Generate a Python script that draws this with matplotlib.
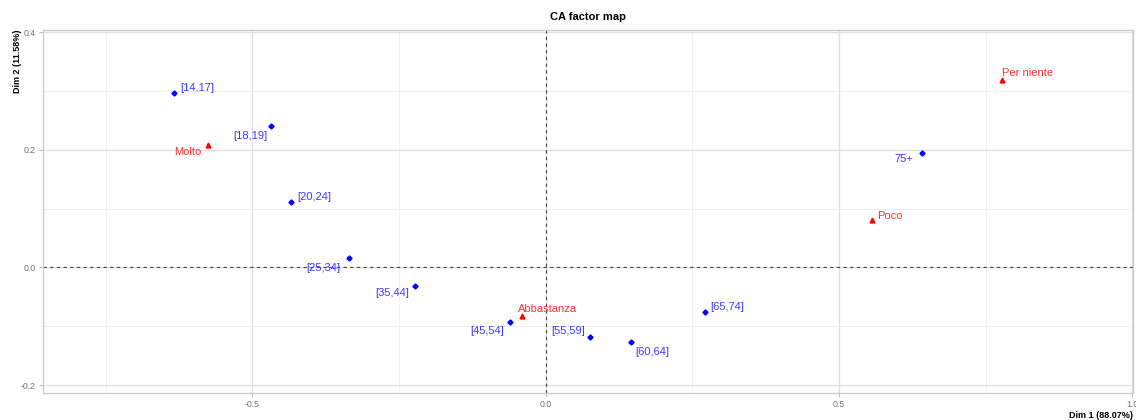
import numpy as np
import matplotlib
matplotlib.use('Agg')
import matplotlib.pyplot as plt
from matplotlib.ticker import MultipleLocator

plt.rcParams['font.family'] = ['Liberation Sans', 'DejaVu Sans']

# rows (age groups)
row_names = ['[14,17]', '[18,19]', '[20,24]', '[25,34]', '[35,44]', '[45,54]',
             '[55,59]', '[60,64]', '[65,74]', '75+']
row_x = [-0.633, -0.468, -0.434, -0.335, -0.222, -0.060, 0.076, 0.145, 0.272, 0.641]
row_y = [0.296, 0.241, 0.112, 0.016, -0.032, -0.093, -0.119, -0.127, -0.076, 0.195]

# columns (answers)
col_names = ['Molto', 'Abbastanza', 'Poco', 'Per niente']
col_x = [-0.576, -0.040, 0.557, 0.778]
col_y = [0.208, -0.083, 0.080, 0.319]

# label offsets in pixels (dx, dy, ha)
row_off = [(6, 5, 'left'), (-4, -10, 'right'), (6, 5, 'left'), (-9, -10, 'right'),
           (-6, -7, 'right'), (-6, -9, 'right'), (-5, 6, 'right'), (5, -10, 'left'),
           (5, 5, 'left'), (-9, -6, 'right')]
col_off = [(-6, -7, 'right'), (-4, 7, 'left'), (5, 4, 'left'), (0, 7, 'left')]

fig = plt.figure(figsize=(11.36, 4.2), dpi=100)
ax = fig.add_axes([0.0376, 0.065, 0.9598, 0.8643])

ax.set_xlim(-0.857, 1.001)
ax.set_ylim(-0.213, 0.4044)

ax.xaxis.set_major_locator(MultipleLocator(0.5))
ax.xaxis.set_minor_locator(MultipleLocator(0.25))
ax.yaxis.set_major_locator(MultipleLocator(0.2))
ax.yaxis.set_minor_locator(MultipleLocator(0.1))
ax.xaxis.set_major_formatter(plt.FuncFormatter(lambda v, p: '%.1f' % v))
ax.yaxis.set_major_formatter(plt.FuncFormatter(lambda v, p: '%.1f' % v))

ax.grid(which='major', color='#dedede', linewidth=0.9)
ax.grid(which='minor', color='#ececec', linewidth=0.6)
ax.set_axisbelow(True)

for s in ax.spines.values():
    s.set_color('#c8c8c8')
    s.set_linewidth(0.9)

ax.tick_params(which='major', length=3, width=0.6, color='#b0b0b0',
               labelsize=6.3, labelcolor='#707070', pad=2)
ax.tick_params(which='minor', length=0)

ax.axhline(0, color='#444444', linestyle=(0, (3, 3)), linewidth=0.8)
ax.axvline(0, color='#444444', linestyle=(0, (3, 3)), linewidth=0.8)

ax.plot(row_x, row_y, linestyle='none', marker='D', markersize=2.6, color='blue')
ax.plot(col_x, col_y, linestyle='none', marker='^', markersize=3.5, color='red')

for name, x, y, (dx, dy, ha) in zip(row_names, row_x, row_y, row_off):
    ax.annotate(name, (x, y), xytext=(dx, dy), textcoords='offset pixels',
                ha=ha, va='center', fontsize=8, color='#3a3aff')
for name, x, y, (dx, dy, ha) in zip(col_names, col_x, col_y, col_off):
    ax.annotate(name, (x, y), xytext=(dx, dy), textcoords='offset pixels',
                ha=ha, va='center', fontsize=8, color='#ff3030')

ax.set_title('CA factor map', fontsize=8, fontweight='bold', pad=7)
ax.set_xlabel('Dim 1 (88.07%)', fontsize=6.5, fontweight='bold', loc='right', labelpad=2)
ax.set_ylabel('Dim 2 (11.58%)', fontsize=6.5, fontweight='bold', loc='top', labelpad=-1)

fig.savefig('out.png', dpi=100)
